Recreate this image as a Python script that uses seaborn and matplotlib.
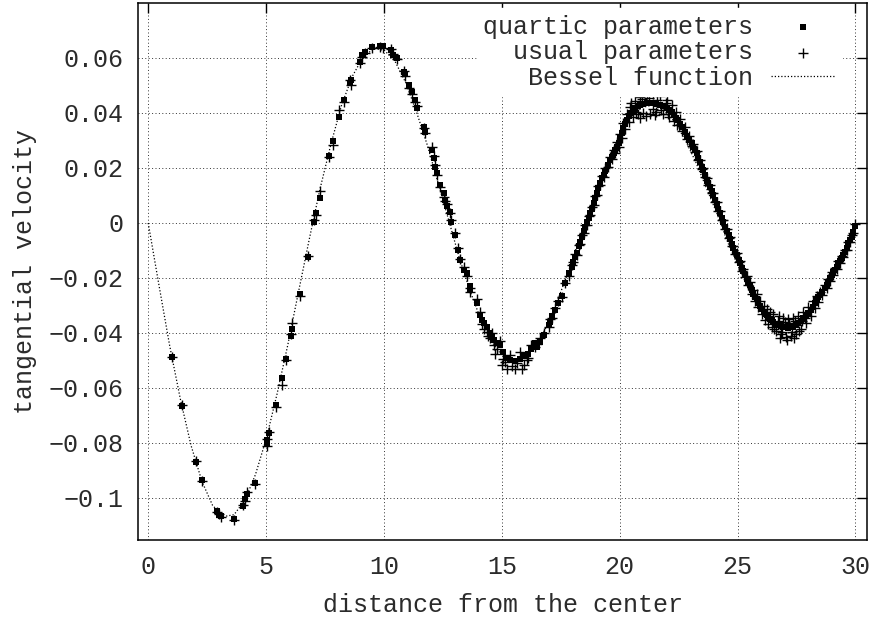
import matplotlib
matplotlib.use("Agg")
import matplotlib.pyplot as plt
import pandas as pd
import seaborn as sns

# ---- data ----
radius = [
    1.02, 1.45, 2.04, 2.27, 2.90, 3.02, 3.10, 3.62, 4.02, 4.12, 4.20, 4.53, 5.02, 5.05, 5.13, 5.42, 5.69, 5.85, 6.05, 6.10, 6.43, 6.76,
    7.03, 7.10, 7.29, 7.66, 7.84, 8.10, 8.30, 8.54, 8.62, 9.00,
    9.07, 9.20, 9.50, 9.85, 9.95, 10.28, 10.40, 10.56, 10.84, 10.90,
    11.05, 11.19, 11.33, 11.40, 11.69, 11.76, 12.04, 12.11, 12.18, 12.25,
    12.39, 12.53, 12.60, 12.68, 12.79, 12.85, 13.03, 13.12, 13.24, 13.38,
    13.53, 13.64, 13.67, 13.95, 14.09, 14.16, 14.23, 14.37, 14.51, 14.58,
    14.65, 14.80, 14.94, 15.05, 15.20, 15.35, 15.55, 15.75, 15.95, 16.10,
    16.25, 16.42, 16.49, 16.63, 16.77, 16.98, 17.05, 17.13, 17.27,
    17.40, 17.55, 17.70, 17.84, 17.97, 18.04, 18.10, 18.19, 18.26, 18.33,
    18.40, 18.47, 18.54, 18.61, 18.68, 18.75, 18.82, 18.89, 18.96, 19.03,
    19.10, 19.17, 19.25, 19.32, 19.39, 19.50, 19.60, 19.67, 19.74, 19.81,
    19.88, 19.95, 20.02, 20.09, 20.16, 20.23, 20.30, 20.38, 20.45, 20.55,
    20.66, 20.77, 20.87, 21.00, 21.15, 21.30, 21.43, 21.55, 21.70, 21.85,
    22.00, 22.10, 22.20, 22.31, 22.38, 22.45, 22.55, 22.64, 22.75, 22.85,
    22.95, 23.06, 23.13, 23.20, 23.27, 23.34, 23.41, 23.48, 23.55, 23.62,
    23.69, 23.76, 23.83, 23.90, 23.97, 24.05, 24.12, 24.19, 24.26, 24.33,
    24.40, 24.47, 24.55, 24.62, 24.69, 24.76, 24.82, 24.90, 24.97, 25.04,
    25.11, 25.18, 25.25, 25.32, 25.39, 25.46, 25.53, 25.60, 25.67, 25.74,
    25.81, 25.88, 25.95, 26.03, 26.10, 26.17, 26.24, 26.31, 26.38, 26.45,
    26.52, 26.63, 26.74, 26.84, 26.94, 27.05, 27.16, 27.27, 27.37, 27.48,
    27.58, 27.69, 27.79, 27.90, 28.00, 28.11, 28.22, 28.29, 28.36, 28.43,
    28.50, 28.60, 28.71, 28.78, 28.85, 28.92, 28.99, 29.06, 29.13, 29.20,
    29.28, 29.35, 29.42, 29.49, 29.56, 29.63, 29.70, 29.77, 29.84, 29.91,
    29.97,
]

quartic_velocity = [
    -0.0486, -0.0665, -0.0868, -0.0935, -0.1048, -0.1062, -0.1066, -0.1076, -0.1029, -0.1005, -0.0985, -0.0944, -0.0800, -0.0790, -0.0765, -0.0662, -0.0565, -0.0496, -0.0411, -0.0384, -0.0260, -0.0124,
    0.0005, 0.0036, 0.0090, 0.0244, 0.0298, 0.0387, 0.0447, 0.0509, 0.0520, 0.0587,
    0.0610, 0.0623, 0.0641, 0.0645, 0.0643, 0.0629, 0.0611, 0.0600, 0.0550, 0.0540,
    0.0502, 0.0477, 0.0447, 0.0417, 0.0350, 0.0332, 0.0265, 0.0235, 0.0205, 0.0180,
    0.0138, 0.0108, 0.0084, 0.0060, 0.0041, 0.0005, -0.0044, -0.0098, -0.0135, -0.0171,
    -0.0183, -0.0229, -0.0244, -0.0290, -0.0335, -0.0353, -0.0362, -0.0378, -0.0401, -0.0413,
    -0.0425, -0.0437, -0.0445, -0.0470, -0.0490, -0.0500, -0.0502, -0.0495, -0.0485, -0.0475,
    -0.0460, -0.0437, -0.0450, -0.0432, -0.0407, -0.0371, -0.0359, -0.0340, -0.0316,
    -0.0290, -0.0265, -0.0220, -0.0183, -0.0159, -0.0141, -0.0123, -0.0110, -0.0085, -0.0070,
    -0.0050, -0.0030, -0.0013, 0.0002, 0.0018, 0.0035, 0.0050, 0.0072, 0.0090, 0.0108,
    0.0126, 0.0144, 0.0163, 0.0176, 0.0190, 0.0210, 0.0229, 0.0241, 0.0253, 0.0266,
    0.0278, 0.0290, 0.0308, 0.0326, 0.0345, 0.0360, 0.0375, 0.0388, 0.0399, 0.0408,
    0.0417, 0.0424, 0.0429, 0.0432, 0.0435, 0.0436, 0.0436, 0.0434, 0.0430, 0.0425,
    0.0418, 0.0410, 0.0402, 0.0392, 0.0383, 0.0373, 0.0360, 0.0348, 0.0332, 0.0316,
    0.0303, 0.0290, 0.0277, 0.0265, 0.0253, 0.0237, 0.0220, 0.0205, 0.0192, 0.0175,
    0.0158, 0.0144, 0.0130, 0.0115, 0.0100, 0.0082, 0.0068, 0.0050, 0.0035, 0.0018,
    0.0005, -0.0015, -0.0030, -0.0045, -0.0060, -0.0075, -0.0092, -0.0105, -0.0118, -0.0133,
    -0.0147, -0.0165, -0.0175, -0.0188, -0.0202, -0.0213, -0.0225, -0.0245, -0.0258, -0.0268,
    -0.0275, -0.0290, -0.0302, -0.0313, -0.0322, -0.0330, -0.0336, -0.0342, -0.0348, -0.0354,
    -0.0359, -0.0366, -0.0371, -0.0375, -0.0378, -0.0380, -0.0381, -0.0380, -0.0378, -0.0372,
    -0.0365, -0.0356, -0.0347, -0.0338, -0.0328, -0.0316, -0.0304, -0.0292, -0.0280, -0.0271,
    -0.0262, -0.0250, -0.0238, -0.0225, -0.0213, -0.0200, -0.0189, -0.0180, -0.0171, -0.0160,
    -0.0147, -0.0138, -0.0126, -0.0115, -0.0104, -0.0090, -0.0074, -0.0062, -0.0050, -0.0032,
    -0.0010,
]

usual_velocity = [
    -0.0488, -0.0663, -0.0866, -0.0937, -0.1050, -0.1058, -0.1070, -0.1082, -0.1025, -0.1010, -0.0978, -0.0948, -0.0812, -0.0785, -0.0760, -0.0668, -0.0590, -0.0500, -0.0405, -0.0365, -0.0265, -0.0120,
    0.0010, 0.0030, 0.0115, 0.0240, 0.0283, 0.0410, 0.0440, 0.0520, 0.0500, 0.0580,
    0.0605, 0.0618, 0.0638, 0.0640, 0.0637, 0.0632, 0.0615, 0.0596, 0.0553, 0.0535,
    0.0490, 0.0470, 0.0440, 0.0425, 0.0345, 0.0328, 0.0275, 0.0243, 0.0212, 0.0175,
    0.0130, 0.0095, 0.0080, 0.0068, 0.0035, 0.0010, -0.0038, -0.0090, -0.0130, -0.0160,
    -0.0192, -0.0238, -0.0250, -0.0275, -0.0322, -0.0368, -0.0385, -0.0395, -0.0420, -0.0400,
    -0.0445, -0.0460, -0.0430, -0.0495, -0.0530, -0.0480, -0.0532, -0.0470, -0.0515, -0.0490,
    -0.0445, -0.0450, -0.0440, -0.0420, -0.0400, -0.0378, -0.0350, -0.0345, -0.0310,
    -0.0282, -0.0271, -0.0217, -0.0192, -0.0154, -0.0143, -0.0113, -0.0117, -0.0081, -0.0075,
    -0.0042, -0.0036, -0.0008, -0.0006, 0.0026, 0.0030, 0.0058, 0.0065, 0.0097, 0.0100,
    0.0135, 0.0138, 0.0171, 0.0168, 0.0200, 0.0202, 0.0240, 0.0232, 0.0266, 0.0255,
    0.0293, 0.0276, 0.0325, 0.0310, 0.0362, 0.0342, 0.0395, 0.0367, 0.0420, 0.0385,
    0.0445, 0.0395, 0.0458, 0.0400, 0.0468, 0.0398, 0.0470, 0.0402, 0.0462, 0.0395,
    0.0448, 0.0385, 0.0428, 0.0372, 0.0405, 0.0356, 0.0378, 0.0333, 0.0348, 0.0305,
    0.0315, 0.0280, 0.0286, 0.0257, 0.0262, 0.0230, 0.0228, 0.0198, 0.0200, 0.0168,
    0.0165, 0.0137, 0.0138, 0.0108, 0.0108, 0.0075, 0.0076, 0.0043, 0.0042, 0.0011,
    0.0012, -0.0022, -0.0023, -0.0053, -0.0052, -0.0083, -0.0084, -0.0114, -0.0110, -0.0142,
    -0.0138, -0.0174, -0.0166, -0.0198, -0.0192, -0.0225, -0.0213, -0.0258, -0.0244, -0.0283,
    -0.0260, -0.0307, -0.0285, -0.0332, -0.0302, -0.0352, -0.0314, -0.0366, -0.0324, -0.0380,
    -0.0332, -0.0393, -0.0340, -0.0405, -0.0345, -0.0415, -0.0348, -0.0412, -0.0345, -0.0402,
    -0.0338, -0.0385, -0.0322, -0.0362, -0.0305, -0.0338, -0.0285, -0.0310, -0.0265, -0.0286,
    -0.0250, -0.0262, -0.0226, -0.0236, -0.0204, -0.0210, -0.0180, -0.0188, -0.0163, -0.0168,
    -0.0140, -0.0145, -0.0119, -0.0122, -0.0097, -0.0097, -0.0068, -0.0068, -0.0044, -0.0038,
    -0.0005,
]

usual_extra_radius = [
    14.40, 14.70, 15.00, 15.15, 15.45, 15.65, 15.85, 16.05,
    20.50, 20.70, 20.85, 20.95, 21.10, 21.25, 21.40, 21.50, 21.60, 21.75, 21.95, 22.05,
    26.55, 26.70, 26.80, 26.90, 27.00, 27.10, 27.20, 27.32, 27.40, 27.45, 27.60, 27.75, 27.85,
]
usual_extra_velocity = [
    -0.0412, -0.0478, -0.0515, -0.0505, -0.0520, -0.0510, -0.0530, -0.0500,
    0.0438, 0.0405, 0.0382, 0.0450, 0.0390, 0.0455, 0.0415, 0.0392, 0.0448, 0.0412, 0.0435, 0.0395,
    -0.0385, -0.0358, -0.0420, -0.0395, -0.0360, -0.0425, -0.0365, -0.0398, -0.0420, -0.0355, -0.0392, -0.0358, -0.0345,
]

bessel_radius = [
    0.0, 0.46, 0.91, 1.37, 1.82, 2.28, 2.73, 3.19, 3.64, 4.10, 4.55, 5.01, 5.46, 5.92, 6.37, 6.83,
    7.28, 7.74, 8.19, 8.65, 9.11, 9.56, 10.02, 10.47, 10.93, 11.38, 11.84, 12.29, 12.75, 13.20,
    13.66, 14.11, 14.57, 15.02, 15.48, 15.93, 16.39, 16.84, 17.30, 17.76, 18.21, 18.67, 19.12,
    19.58, 20.03, 20.49, 20.94, 21.40, 21.85, 22.31, 22.76, 23.22, 23.67, 24.13, 24.58, 25.04,
    25.49, 25.95, 26.40, 26.86, 27.32, 27.77, 28.23, 28.68, 29.14, 29.59, 30.0,
]
bessel_velocity = [
    0.0, -0.0228, -0.0446, -0.0643, -0.0810, -0.0940, -0.1027, -0.1068, -0.1061, -0.1009, -0.0915,
    -0.0784, -0.0624, -0.0444, -0.0253, -0.0060, 0.0121, 0.0283, 0.0425, 0.0532, 0.0603, 0.0634,
    0.0628, 0.0588, 0.0509, 0.0404, 0.0283, 0.0148, 0.0009, -0.0128, -0.0249, -0.0351, -0.0432,
    -0.0484, -0.0503, -0.0489, -0.0451, -0.0386, -0.0297, -0.0191, -0.0080, 0.0033, 0.0145,
    0.0245, 0.0325, 0.0386, 0.0420, 0.0429, 0.0411, 0.0370, 0.0305, 0.0223, 0.0129, 0.0033,
    -0.0070, -0.0160, -0.0245, -0.0314, -0.0354, -0.0377, -0.0377, -0.0356, -0.0313, -0.0250,
    -0.0166, -0.0087, 0.0,
]

xtick_values = [0, 5, 10, 15, 20, 25, 30]
xtick_labels = ["0", "5", "10", "15", "20", "25", "30"]
ytick_values = [0.06, 0.04, 0.02, 0.0, -0.02, -0.04, -0.06, -0.08, -0.1]
ytick_labels = ["0.06", "0.04", "0.02", "0", "\u22120.02", "\u22120.04",
                "\u22120.06", "\u22120.08", "\u22120.1"]

# ---- styling ----
sns.set_style("white")
plt.rcParams["font.family"] = ["Liberation Mono", "DejaVu Sans Mono", "DejaVu Sans"]
plt.rcParams["font.size"] = 18
text_color = "#2b2b2b"

W, H = 882, 620
fig = plt.figure(figsize=(W / 100, H / 100), dpi=100)
left_px, right_px, top_px, bottom_px = 138.3, 867.0, 3.0, 540.0
ax = fig.add_axes([left_px / W, 1 - bottom_px / H,
                   (right_px - left_px) / W, (bottom_px - top_px) / H])

quartic_df = pd.DataFrame({"r": radius, "v": quartic_velocity})
usual_df = pd.DataFrame({"r": radius + usual_extra_radius,
                         "v": usual_velocity + usual_extra_velocity})
bessel_df = pd.DataFrame({"r": bessel_radius, "v": bessel_velocity})

sns.scatterplot(data=quartic_df, x="r", y="v", marker="s", s=18, color="black",
                linewidth=0, ax=ax, label="quartic parameters", zorder=3, legend=False)
sns.scatterplot(data=usual_df, x="r", y="v", marker="+", s=60, color="black",
                linewidth=1.0, ax=ax, label="  usual parameters", zorder=3, legend=False)
sns.lineplot(data=bessel_df, x="r", y="v", color="black", linewidth=0.9,
             linestyle=(0, (1, 1.6)), ax=ax, label="   Bessel function",
             sort=False, estimator=None, zorder=4, legend=False)

ax.set_xlim(-0.42, 30.49)
ax.set_ylim(-0.1153, 0.08)
ax.set_xticks(xtick_values)
ax.set_xticklabels(xtick_labels)
ax.set_yticks(ytick_values)
ax.set_yticklabels(ytick_labels)

ax.grid(True, color="black", linestyle=(0, (1, 2.5)), linewidth=0.7, alpha=0.8)
ax.set_axisbelow(True)
ax.tick_params(direction="in", top=True, right=True, length=7, width=1.0,
               pad=11, labelsize=18, color="black", labelcolor=text_color)
for sp in ax.spines.values():
    sp.set_visible(True)
    sp.set_color("black")
    sp.set_linewidth(1.1)

ax.set_xlabel("distance from the center", fontsize=18, labelpad=10, color=text_color)
ax.set_ylabel("tangential velocity", fontsize=18, labelpad=8, color=text_color)

handles, labels = ax.get_legend_handles_labels()
leg = ax.legend(handles, labels, loc="upper right", bbox_to_anchor=(0.966, 0.99),
                markerfirst=False, frameon=True, framealpha=1.0, facecolor="white",
                edgecolor="white", fancybox=False, borderpad=0.25, borderaxespad=0,
                handlelength=2.6, handletextpad=0.7, labelspacing=0.06, fontsize=18)
for t in leg.get_texts():
    t.set_color(text_color)
leg.set_zorder(5)

fig.savefig("out.png", dpi=100)
